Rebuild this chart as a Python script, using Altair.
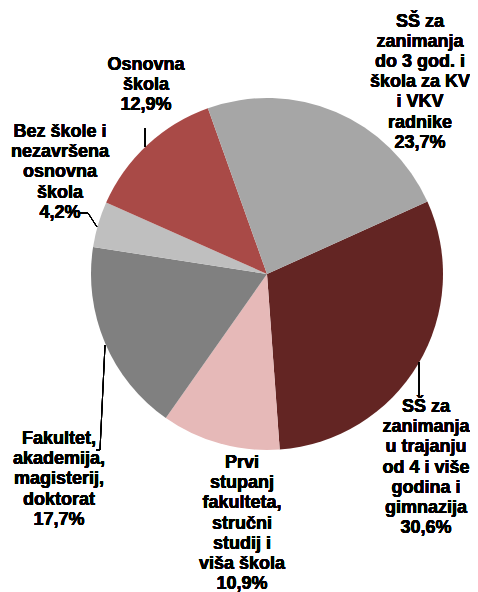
import math
import altair as alt
import pandas as pd

# ---- data ----
categories = [
    "SŠ za zanimanja u trajanju od 4 i više godina i gimnazija",
    "Prvi stupanj fakulteta, stručni studij i viša škola",
    "Fakultet, akademija, magisterij, doktorat",
    "Bez škole i nezavršena osnovna škola",
    "Osnovna škola",
    "SŠ za zanimanja do 3 god. i škola za KV i VKV radnike",
]
shares = [30.6, 10.9, 17.7, 4.2, 12.9, 23.7]
share_labels = ["30,6%", "10,9%", "17,7%", "4,2%", "12,9%", "23,7%"]
label_lines = [
    ["SŠ za", "zanimanja", "u trajanju", "od 4 i više", "godina i", "gimnazija"],
    ["Prvi", "stupanj", "fakulteta,", "stručni", "studij i", "viša škola"],
    ["Fakultet,", "akademija,", "magisterij,", "doktorat"],
    ["Bez škole i", "nezavršena", "osnovna", "škola"],
    ["Osnovna", "škola"],
    ["SŠ za", "zanimanja", "do 3 god. i", "škola za KV", "i VKV", "radnike"],
]
colors = ["#632523", "#E6B9B8", "#808080", "#BFBFBF", "#A94A47", "#A6A6A6"]

# ---- layout (styles / positions, not data) ----
W, H = 462, 584
CX, CY, R = 259, 266, 176
START_DEG = 65.7
FONT = "Liberation Sans"
FS = 18
LH = 20.2

label_pos = [  # (center x, first baseline y) in view pixels
    (418, 404),
    (234, 460),
    (51, 436),
    (52, 129),
    (138, 62),
    (412, 18.5),
]
leaders = [  # polyline segments
    [(411, 354), (411, 389)],
    [],
    [(97, 337), (92, 442), (88, 442)],
    [(89, 219), (80, 205), (72, 205)],
    [(137, 139), (137, 120)],
    [],
]

df = pd.DataFrame({"category": categories, "share": shares, "idx": list(range(len(shares)))})

start = math.radians(START_DEG)
pie = alt.Chart(df).mark_arc(outerRadius=R).encode(
    theta=alt.Theta("share:Q", stack=True, scale=alt.Scale(range=[start, start + 2 * math.pi])),
    color=alt.Color("category:N", scale=alt.Scale(domain=categories, range=colors), legend=None),
    order=alt.Order("idx:Q"),
    x=alt.value(CX),
    y=alt.value(CY),
)

layers = [pie]

for segs in leaders:
    for (x1, y1), (x2, y2) in zip(segs[:-1], segs[1:]):
        layers.append(
            alt.Chart(df).mark_rule(color="#000000", strokeWidth=1).encode(
                x=alt.value(x1), y=alt.value(y1), x2=alt.value(x2), y2=alt.value(y2)
            )
        )

for lines, pct, (lx, ly) in zip(label_lines, share_labels, label_pos):
    layers.append(
        alt.Chart(df).mark_text(
            font=FONT, fontSize=FS, fontWeight="bold", align="center",
            baseline="alphabetic", lineHeight=LH, color="#000000",
        ).encode(
            x=alt.value(lx), y=alt.value(ly), text=alt.value(lines + [pct])
        )
    )

chart = alt.layer(*layers).properties(
    width=W, height=H,
    autosize=alt.AutoSizeParams(type="none"),
    padding=0,
).configure_view(stroke=None)

chart.save("out.html", embed_options={"renderer": "svg", "actions": False})
